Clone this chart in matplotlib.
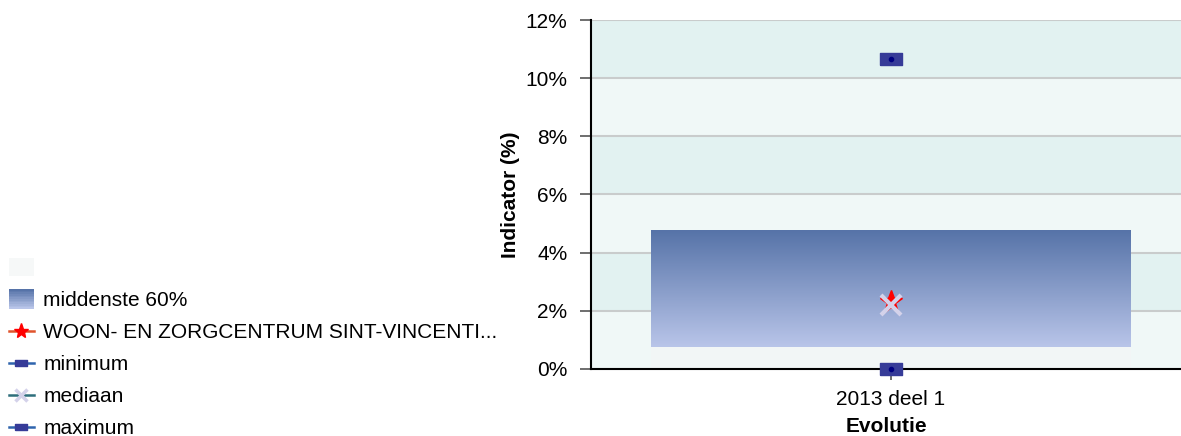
import numpy as np
import matplotlib
matplotlib.use("Agg")
import matplotlib.pyplot as plt
from matplotlib.patches import Rectangle
from matplotlib.lines import Line2D
from matplotlib.legend_handler import HandlerBase
from matplotlib.colors import LinearSegmentedColormap

plt.rcParams["font.family"] = ["Liberation Sans", "DejaVu Sans"]
plt.rcParams["font.size"] = 15

# ── data ─────────────────────────────────────────────
categorieen = ["2013 deel 1"]
p20 = [0.77]          # onderkant middenste 60%
p80 = [4.78]          # bovenkant middenste 60%
minimum = [0.0]
maximum = [10.66]
mediaan = [2.2]
instelling = [2.3]    # WOON- EN ZORGCENTRUM SINT-VINCENTI...
instelling_naam = "WOON- EN ZORGCENTRUM SINT-VINCENTI..."
y_ticks = [0, 2, 4, 6, 8, 10, 12]

grad = LinearSegmentedColormap.from_list("grad", ["#b9c5e9", "#5673a8"])


class HandlerGradient(HandlerBase):
    def create_artists(self, legend, orig_handle, xdescent, ydescent,
                       width, height, fontsize, trans):
        n = 12
        h = height * 1.35
        y0 = -ydescent - (h - height) / 2
        arts = []
        for i in range(n):
            r = Rectangle((-xdescent, y0 + i * h / n), width, h / n + 0.3,
                          facecolor=grad(i / (n - 1)), edgecolor="none",
                          transform=trans)
            arts.append(r)
        return arts


class HandlerSquare(HandlerBase):
    def create_artists(self, legend, orig_handle, xdescent, ydescent,
                       width, height, fontsize, trans):
        h = height * 1.25
        y0 = -ydescent - (h - height) / 2
        return [Rectangle((-xdescent, y0), width, h, facecolor="#f6f8f8",
                          edgecolor="none", transform=trans)]


fig = plt.figure(figsize=(11.81, 4.36), dpi=100)
ax = fig.add_axes([0.5004, 0.1537, 0.4996, 0.8004])

# achtergrondbanden
for i, (lo, hi) in enumerate(zip(y_ticks[:-1], y_ticks[1:])):
    kleur = "#f0f8f7" if i % 2 == 0 else "#e2f2f1"
    ax.axhspan(lo, hi, color=kleur, zorder=0, lw=0)
for t in y_ticks[1:]:
    ax.axhline(t, color="#c9cccc", lw=1.5, zorder=1)

x = np.arange(len(categorieen))
breedte = 0.813

# onzichtbare onderkant + gradient voor middenste 60%
ax.bar(x, p20, width=breedte, color="#f2f6f6", zorder=2)
for xi, lo, hi in zip(x, p20, p80):
    ax.imshow(np.linspace(1, 0, 256).reshape(-1, 1), cmap=grad,
              extent=[xi - breedte / 2, xi + breedte / 2, lo, hi],
              aspect="auto", zorder=2, interpolation="bilinear")

rect = [(-2, -1), (2, -1), (2, 1), (-2, 1), (-2, -1)]
for vals in (minimum, maximum):
    ax.plot(x, vals, linestyle="none", marker=rect, markersize=16,
            color="#363b98", zorder=4, clip_on=False)
    ax.plot(x, vals, linestyle="none", marker="o", markersize=3,
            color="#000080", zorder=5, clip_on=False)

ax.plot(x, instelling, linestyle="none", marker="*", markersize=17,
        color="#ff0000", zorder=4)
ax.plot(x, mediaan, linestyle="none", marker="x", markersize=14,
        markeredgewidth=3, color="#d4d2ea", zorder=5)

ax.set_xlim(-0.508, 0.492)
ax.set_ylim(0, 12)
ax.set_yticks(y_ticks)
ax.set_yticklabels([f"{t}%" for t in y_ticks])
ax.set_xticks(x)
ax.set_xticklabels(categorieen)
ax.tick_params(axis="y", length=8, width=1.2, color="#555555", pad=9)
ax.tick_params(axis="x", length=8, width=1.2, color="#555555", pad=7)
ax.spines["top"].set_visible(False)
ax.spines["right"].set_visible(False)
ax.spines["left"].set_linewidth(1.5)
ax.spines["bottom"].set_linewidth(1.5)
ax.set_ylabel("Indicator (%)", fontweight="bold", labelpad=4)
ax.set_xlabel("Evolutie", fontweight="bold", labelpad=6)

# legenda
h_leeg = Rectangle((0, 0), 1, 1)
h_grad = Rectangle((0, 0), 1, 1)
h_inst = Line2D([], [], color="#e0542c", lw=1.8, marker="*", markersize=11,
                markerfacecolor="#ff0000", markeredgecolor="#ff0000")
h_min = Line2D([], [], color="#2f64ad", lw=1.8, marker=rect, markersize=8,
               markerfacecolor="#363b98", markeredgecolor="#363b98")
h_med = Line2D([], [], color="#2e6f7c", lw=1.8, marker="x", markersize=8,
               markeredgewidth=2.5, markeredgecolor="#d4d2ea")
h_max = Line2D([], [], color="#2f64ad", lw=1.8, marker=rect, markersize=8,
               markerfacecolor="#363b98", markeredgecolor="#363b98")
fig.legend([h_leeg, h_grad, h_inst, h_min, h_med, h_max],
           ["", "middenste 60%", instelling_naam, "minimum", "mediaan", "maximum"],
           handler_map={h_leeg: HandlerSquare(), h_grad: HandlerGradient()},
           loc="upper left", bbox_to_anchor=(0.0075, 0.405), frameon=False,
           handlelength=1.2, handletextpad=0.45, labelspacing=0.62,
           borderaxespad=0, borderpad=0)

fig.savefig("out.png", dpi=100)
